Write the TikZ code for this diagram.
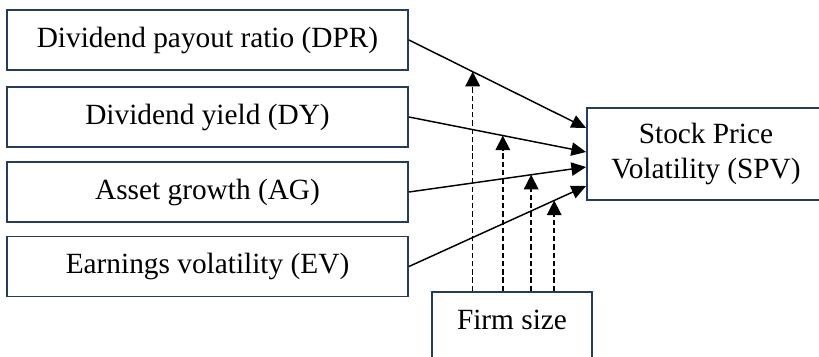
\documentclass[tikz,border=0pt]{standalone}
\usepackage{fontspec}
\setmainfont{Liberation Serif}
\usetikzlibrary{arrows.meta,positioning,calc}
\definecolor{boxBlue}{RGB}{38,60,90}

\begin{document}
\begin{tikzpicture}[x=0.75pt,y=-0.75pt,
    factor/.style={rectangle,draw=boxBlue,line width=1.4pt,
                   minimum width=300.75pt,minimum height=45pt,
                   inner sep=0pt,font=\fontsize{22}{26}\selectfont},
    outcome/.style={rectangle,draw=boxBlue,line width=1.4pt,align=center,
                    minimum width=178.5pt,minimum height=69pt,
                    inner sep=0pt,font=\fontsize{22}{26}\selectfont},
    moder/.style={rectangle,draw=boxBlue,line width=1.4pt,
                  minimum width=120pt,minimum height=58.5pt,inner sep=0pt,
                  text height=15pt,text depth=18pt,
                  font=\fontsize{22}{26}\selectfont},
    arr/.style={-{Triangle[length=11pt,width=10pt]},line width=1.1pt},
    darr/.style={-{Triangle[length=11pt,width=11pt]},line width=1.1pt,
                 dash pattern=on 4pt off 2.2pt}]

    \useasboundingbox (0,0) rectangle (819,357);

    % predictors
    \node[factor] (dpr) at (207.5,40) {Dividend payout ratio (DPR)};
    \node[factor] (dy)  at (207.5,117) {Dividend yield (DY)};
    \node[factor] (ag)  at (207.5,192) {Asset growth (AG)};
    \node[factor] (ev)  at (207.5,266.5) {Earnings volatility (EV)};

    % outcome and moderator
    \node[outcome] (spv) at (706,154) {Stock Price\\Volatility (SPV)};
    \node[moder] (fs) at (512,331) {Firm size};

    % arrow ends on SPV
    \foreach \k/\dy in {1/-26,2/-2,3/13,4/32} {
      \coordinate (t\k) at ($(spv.west)+(0,\dy)$);
    }

    % direct effects
    \foreach \src/\k/\p in {dpr/1/0.36,dy/2/0.53,ag/3/0.69,ev/4/0.82} {
      \draw[arr] (\src.east) -- (t\k) coordinate[pos=\p] (m\k);
    }

    % moderating effects
    \foreach \k in {1,...,4} {
      \coordinate (f\k) at (fs.north -| m\k);
      \draw[darr] (f\k) -- (m\k);
    }
  \end{tikzpicture}
\end{document}
